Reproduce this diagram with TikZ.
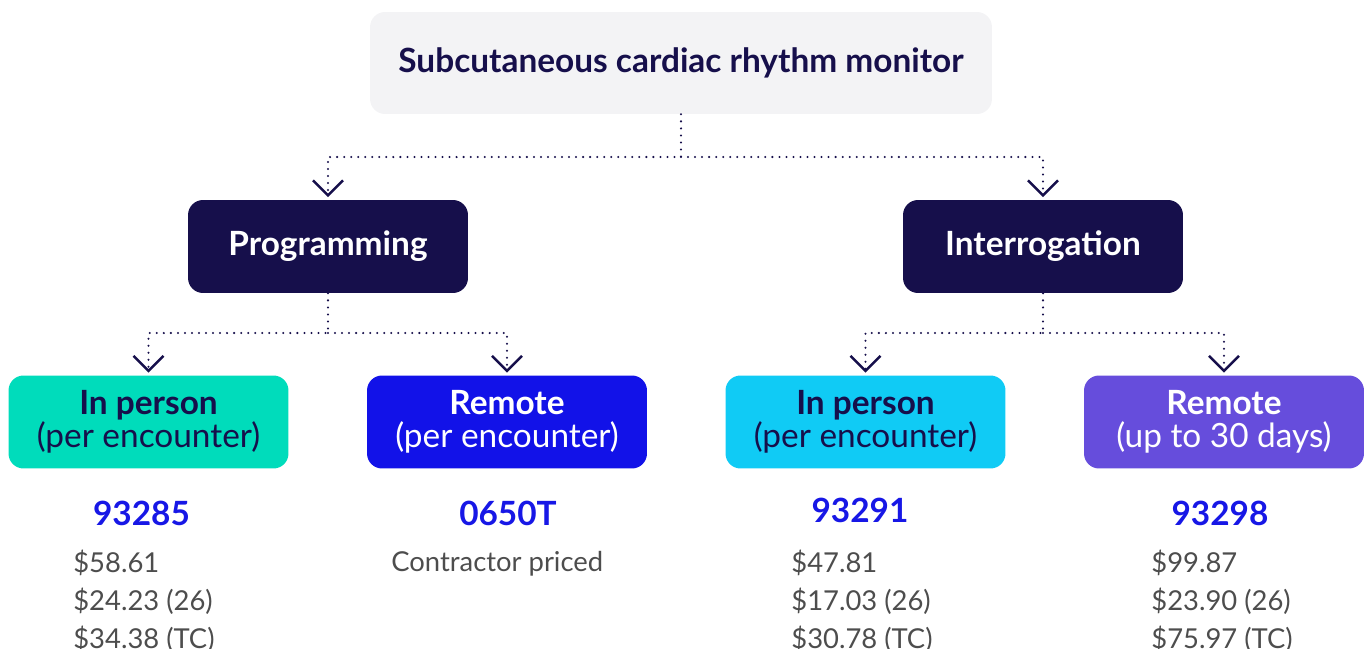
\documentclass[tikz,border=0pt]{standalone}
\usepackage{fontspec}
\setmainfont{Lato}
\usetikzlibrary{arrows.meta}

\definecolor{navy}{HTML}{160F4B}
\definecolor{paper}{HTML}{F3F3F5}
\definecolor{teal}{HTML}{00DCBB}
\definecolor{royal}{HTML}{1212E8}
\definecolor{sky}{HTML}{10CBF5}
\definecolor{violet}{HTML}{664DDC}
\definecolor{codeblue}{HTML}{1717E6}
\definecolor{pricegray}{HTML}{4D4D4D}

\tikzset{
  box/.style={rounded corners=0.3cm, minimum width=5.6cm, minimum height=1.86cm,
    align=center, inner sep=0pt},
  headbox/.style={box, fill=navy, text=white, font=\fontsize{19}{22}\selectfont\bfseries},
  lowbox/.style={box, font=\fontsize{19}{18.5}\selectfont},
  link/.style={navy, line width=1.3pt, line cap=round, dash pattern=on 0pt off 4pt,
    -{Straight Barb[length=0.3cm, width=0.6cm, line width=1.4pt]}, shorten >=1.5pt},
  code/.style={codeblue, font=\fontsize{19}{21}\selectfont\bfseries, anchor=base},
  price/.style={pricegray, font=\fontsize{15.6}{21.5}\selectfont, align=left,
    anchor=base west, inner sep=0pt}
}

\begin{document}
\begin{tikzpicture}[x=0.02cm, y=-0.02cm]
\useasboundingbox (0,0) rectangle (1369,649);

\node[box, fill=paper, text=navy, minimum width=12.44cm, minimum height=2.04cm,
  font=\fontsize{19}{22}\selectfont\bfseries] (title) at (681,63) {Subcutaneous cardiac rhythm monitor};

\node[headbox] (prog) at (328,246.5) {Programming};
\node[headbox] (inter) at (1043,246.5) {Interrogation};

\node[lowbox, fill=teal, text=navy] (ip1) at (148.5,422) {\textbf{In person}\\(per encounter)};
\node[lowbox, fill=royal, text=white] (rem1) at (507,422) {\textbf{Remote}\\(per encounter)};
\node[lowbox, fill=sky, text=navy] (ip2) at (865.5,422) {\textbf{In person}\\(per encounter)};
\node[lowbox, fill=violet, text=white] (rem2) at (1224,422) {\textbf{Remote}\\(up to 30 days)};

\coordinate (j0) at (681,157);
\coordinate (j1) at (328,333);
\coordinate (j2) at (1043,333);

\draw[link] (title.south) -- (j0) -| (prog.north);
\draw[link] (j0) -| (inter.north);
\draw[link] (prog.south) -- (j1) -| (ip1.north);
\draw[link] (j1) -| (rem1.north);
\draw[link] (inter.south) -- (j2) -| (ip2.north);
\draw[link] (j2) -| (rem2.north);

\node[code] (c1) at (141.5,525) {93285};
\node[code] (c2) at (508,525) {0650T};
\node[code] (c3) at (860,522) {93291};
\node[code] (c4) at (1220,525) {93298};

% multi-line nodes sit on the baseline of their last line
\node[price] (p1) at (73,648) {\$58.61\\\$24.23 (26)\\\$34.38 (TC)};
\node[price] (p2) at (391,571) {Contractor priced};
\node[price] (p3) at (791,648) {\$47.81\\\$17.03 (26)\\\$30.78 (TC)};
\node[price] (p4) at (1151,648) {\$99.87\\\$23.90 (26)\\\$75.97 (TC)};
\end{tikzpicture}
\end{document}
